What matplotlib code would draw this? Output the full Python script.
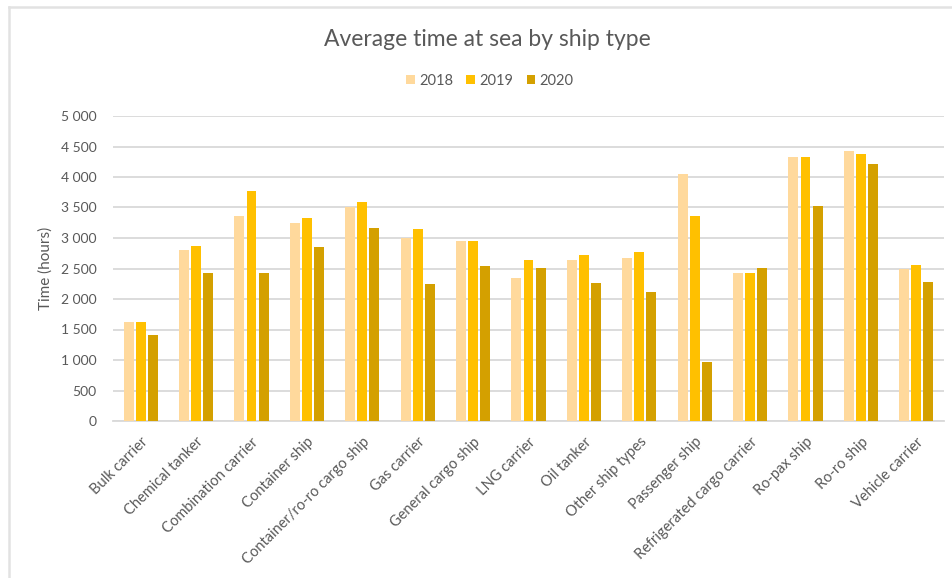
import matplotlib.pyplot as plt
import numpy as np
from matplotlib.lines import Line2D
from matplotlib.ticker import FuncFormatter

ship_types = ["Bulk carrier", "Chemical tanker", "Combination carrier", "Container ship",
              "Container/ro-ro cargo ship", "Gas carrier", "General cargo ship", "LNG carrier",
              "Oil tanker", "Other ship types", "Passenger ship", "Refrigerated cargo carrier",
              "Ro-pax ship", "Ro-ro ship", "Vehicle carrier"]
hours_2018 = [1620, 2800, 3360, 3240, 3515, 3000, 2955, 2350, 2645, 2680, 4045, 2425, 4320, 4420, 2490]
hours_2019 = [1620, 2870, 3765, 3335, 3585, 3150, 2945, 2645, 2715, 2770, 3360, 2425, 4320, 4385, 2550]
hours_2020 = [1410, 2430, 2430, 2855, 3160, 2250, 2535, 2515, 2260, 2120, 975, 2515, 3520, 4220, 2275]
years = ["2018", "2019", "2020"]
colors = ["#FFD99C", "#FFC000", "#D4A000"]

plt.rcParams['font.family'] = ['Lato', 'DejaVu Sans']

fig = plt.figure(figsize=(9.53, 5.78), dpi=100)
ax = fig.add_axes([113/953, 1 - 421/578, 831/953, 305/578])

x = np.arange(len(ship_types))
step = 0.218
for i, (vals, c, yr) in enumerate(zip([hours_2018, hours_2019, hours_2020], colors, years)):
    ax.bar(x + (i - 1) * step, vals, width=0.18, color=c, label=yr, zorder=3)

ax.set_xlim(-0.5, len(ship_types) - 0.5)
ax.set_ylim(0, 5000)
ax.set_yticks(np.arange(0, 5001, 500))
ax.yaxis.set_major_formatter(FuncFormatter(lambda v, p: f"{int(v):,}".replace(",", " ")))
ax.grid(axis='y', color='#D9D9D9', linewidth=1.3, zorder=0)
for s in ['top', 'right', 'left']:
    ax.spines[s].set_visible(False)
ax.spines['bottom'].set_color('#D9D9D9')
ax.spines['bottom'].set_linewidth(1.3)
ax.tick_params(axis='both', length=0, colors='#595959', labelsize=10)
ax.tick_params(axis='y', pad=12)

ax.set_xticks(x)
ax.set_xticklabels(ship_types, rotation=45, ha='right', rotation_mode='anchor', fontsize=10.5)
ax.tick_params(axis='x', pad=10)
ax.set_ylabel("Time (hours)", color='#595959', fontsize=11, labelpad=6)

fig.text(487/953, 1 - 40/578, "Average time at sea by ship type", ha='center', va='center',
         fontsize=16.5, color='#595959')
ax.legend(loc='center', bbox_to_anchor=(490/953, 1 - 81/578), bbox_transform=fig.transFigure,
          ncol=3, frameon=False, fontsize=10.5, labelcolor='#595959', handlelength=0.6,
          handleheight=0.6, handletextpad=0.3, columnspacing=0.9)

# Frame edges along the top and left
fig.add_artist(Line2D([9/953, 1], [1 - 6.5/578, 1 - 6.5/578], transform=fig.transFigure,
                      color='#E2E2E2', linewidth=1.8))
fig.add_artist(Line2D([9/953, 9/953], [0, 1 - 6.5/578], transform=fig.transFigure,
                      color='#E2E2E2', linewidth=1.8))

fig.savefig("out.png", dpi=100)
